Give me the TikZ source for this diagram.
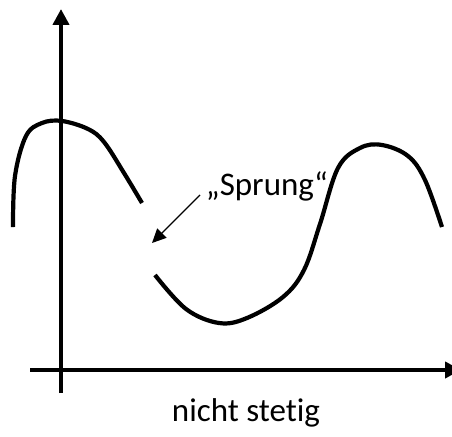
\documentclass[tikz,border=0pt]{standalone}
\usepackage{fontspec}
\setmainfont[Ligatures=NoCommon]{Carlito}
\usetikzlibrary{arrows.meta}
\definecolor{gfink}{HTML}{000000}
\tikzset{
  gaxis/.style={line width=4pt,gfink,-{Triangle[length=16pt,width=16pt]}},
  gkurve/.style={line width=4.2pt,gfink,line cap=butt,smooth,tension=0.6},
  glabel/.style={font=\fontsize{33}{38}\selectfont,text=gfink,inner sep=0pt}}
\begin{document}
\begin{tikzpicture}[x=1pt,y=-1pt]
  \useasboundingbox (0,0) rectangle (452,436);
  \coordinate (o) at (61,370);
  \draw[gaxis] (61,393) -- (61,9);
  \draw[gaxis] (30,370) -- (461,370);
  % links vom Sprung
  \draw[gkurve] plot coordinates {(13,227) (15,176) (26,136) (42,123) (62,121) (88,129) (104,142) (124,173) (142,203)};
  % rechts vom Sprung
  \draw[gkurve] plot coordinates {(155,275) (186,309) (219,323) (247,318) (283,297) (304,270) (320,224) (338,168) (360,148) (382,145) (408,156) (425,180) (442,227)};
  \node[glabel] (sprung) at (267,186) {„Sprung“};
  \node[glabel] (titel) at (246,413) {nicht stetig};
  \coordinate (jumpto) at (152,243);
  \draw[line width=1.4pt,-{Triangle[length=14pt,width=13pt]}] (200,195) -- (jumpto);
\end{tikzpicture}
\end{document}
